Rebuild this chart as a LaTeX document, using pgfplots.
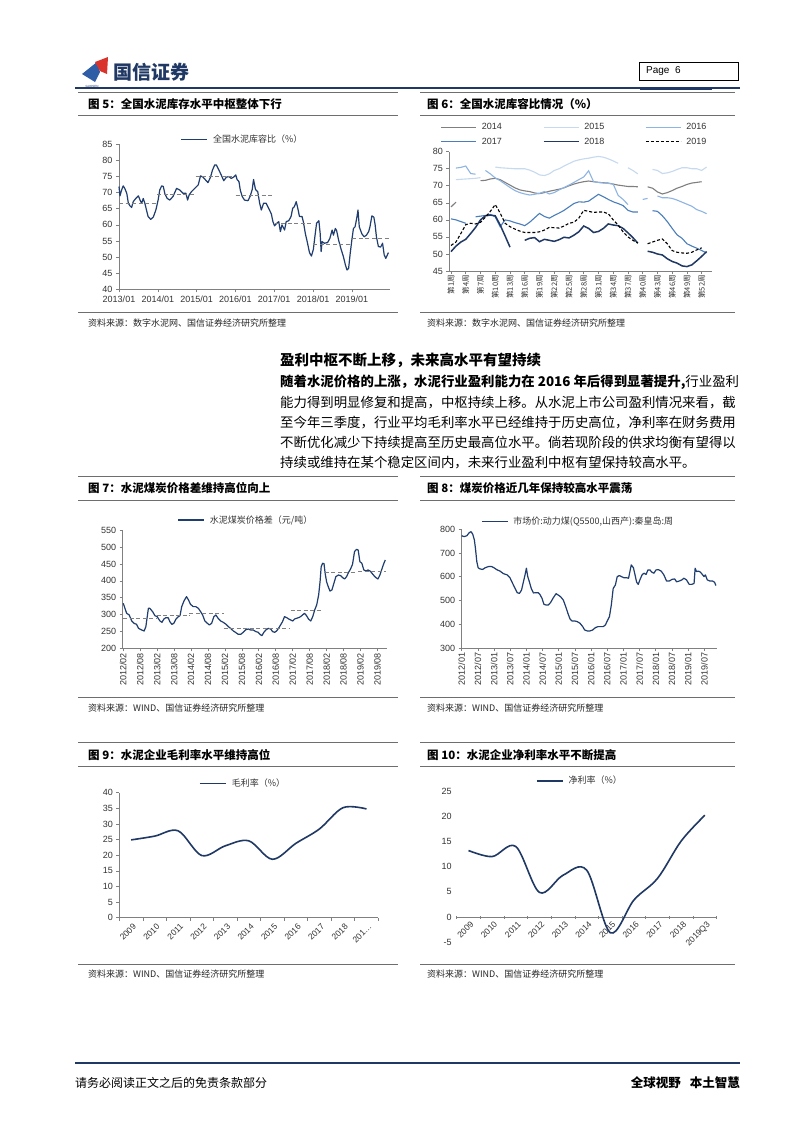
\documentclass[border=0pt]{standalone}
\usepackage{pgfplots}
\usepackage{pgfplotstable}
\pgfplotsset{compat=1.18}
\usepackage{fontspec}
\setmainfont{Liberation Sans}
\newfontfamily\cjk{Noto Sans CJK SC}
\definecolor{navy}{HTML}{1F3864}
\definecolor{lnc}{HTML}{1F3D6E}
\definecolor{c14}{HTML}{7F7F7F}
\definecolor{c15}{HTML}{C6D9F0}
\definecolor{c16}{HTML}{8EB4E3}
\definecolor{c17}{HTML}{4A7EBB}
\definecolor{c18}{HTML}{1F3864}
\definecolor{frm}{HTML}{6E6E6E}
\definecolor{logored}{HTML}{D9332B}
\definecolor{logoblue}{HTML}{2F5DA6}

\pgfplotstableread{
m v
0 71.9
0.3 69.0
0.8 70.8
1.3 72.1
1.8 71.3
2.4 69.8
2.9 66.7
3.4 65.9
3.9 65.4
4.4 67.2
5.2 68.2
6.0 69.0
6.5 67.7
7.0 66.7
7.5 68.2
8.0 66.7
8.5 64.6
9.0 62.6
9.8 61.7
10.6 62.4
11.4 64.6
12.1 67.7
12.6 70.8
13.2 72.1
13.7 71.9
14.2 69.6
14.9 68.2
15.7 67.7
16.7 68.8
17.8 71.3
18.8 70.8
19.8 69.8
20.7 69.8
21.2 67.7
21.7 69.3
22.4 70.3
23.4 71.3
24.5 72.4
25.2 75.2
26.0 74.8
26.8 73.9
27.5 73.1
28.3 74.8
28.9 77.0
29.6 78.6
30.1 78.6
30.9 77.0
31.6 75.5
32.4 73.7
33.2 74.8
34.0 75.0
34.7 74.4
35.4 74.8
36.1 75.5
36.5 74.1
37.1 73.4
37.5 70.8
38.1 68.8
38.8 67.7
39.9 67.5
40.6 69.0
41.2 71.0
41.6 74.1
42.2 71.0
42.9 70.3
43.5 66.7
44.0 64.6
44.7 66.7
45.5 66.7
46.3 65.1
47.1 63.4
47.6 61.0
48.1 59.7
48.8 60.5
49.4 61.0
49.9 57.9
50.4 60.0
51.2 58.4
51.7 61.0
52.5 61.3
53.2 62.6
53.7 65.1
54.2 65.6
54.8 67.2
55.3 65.1
55.8 62.6
56.6 62.6
57.0 61.0
57.6 57.4
58.3 54.3
58.9 51.4
59.5 50.3
60.1 52.4
60.7 57.4
61.1 60.5
61.8 61.3
62.2 57.4
62.5 51.7
62.8 54.8
63.5 54.3
64.5 54.5
65.2 55.8
65.9 58.4
66.3 56.8
66.9 58.9
67.3 58.2
67.9 55.3
68.6 52.7
69.4 50.1
70.0 47.6
70.5 46.0
71.0 46.5
71.5 51.2
72.0 55.3
72.5 58.9
73.0 59.4
73.5 62.0
73.9 64.6
74.3 59.4
75.1 57.2
75.8 56.3
76.5 56.8
77.2 57.9
77.6 59.4
78.2 62.8
78.8 62.4
79.2 60.0
79.6 56.3
80.2 53.3
80.9 53.1
81.5 54.3
82.0 50.7
82.5 49.6
83.0 50.7
83.3 51.4
}\tabfive

\pgfplotstableread{
w a b c d e f
1 63.8 nan nan 60.3 50.7 52.5
2 65.2 71.8 75.2 60.0 52.3 53.5
3 nan 71.9 75.4 59.5 53.5 56.0
4 nan 72.0 75.8 59.0 54.3 58.6
5 nan 72.1 73.6 nan 56.0 59.0
6 nan 72.2 73.4 60.9 57.8 58.8
7 71.5 72.4 nan 61.1 60.0 59.3
8 71.6 nan 74.5 61.3 61.2 60.8
9 72.0 nan 73.5 61.6 61.4 62.5
10 72.2 75.5 72.3 60.9 61.2 64.5
11 71.8 75.3 71.5 58.0 58.5 62.0
12 71.0 75.2 70.5 60.0 55.3 59.0
13 70.2 75.1 69.5 59.7 52.0 58.0
14 69.4 75.0 68.6 59.2 nan 57.3
15 68.8 75.0 68.0 58.8 nan 56.7
16 68.5 75.0 67.6 58.3 54.0 56.3
17 68.3 74.6 67.3 59.3 54.6 56.3
18 67.9 74.0 67.5 60.6 54.8 56.3
19 67.7 73.2 67.8 61.9 53.6 56.5
20 68.0 73.0 68.3 61.0 54.3 57.0
21 68.4 73.5 67.6 60.5 54.0 57.8
22 68.7 74.5 68.0 61.3 53.7 57.7
23 69.0 75.0 68.8 62.0 54.2 57.6
24 69.4 75.8 69.5 62.8 54.9 58.2
25 70.0 76.5 70.2 63.8 54.7 59.0
26 70.5 77.2 71.0 64.8 55.5 59.3
27 70.9 77.6 71.8 65.3 56.5 60.5
28 71.2 77.9 72.6 65.2 58.2 62.8
29 71.4 78.1 74.4 65.5 57.5 62.5
30 71.2 78.4 71.2 66.5 56.3 62.2
31 71.0 78.6 71.0 67.5 56.6 62.3
32 70.9 78.4 70.8 66.8 57.5 62.3
33 70.8 77.9 70.7 66.0 58.8 61.8
34 70.5 77.3 70.5 65.3 58.5 60.0
35 70.2 76.6 67.2 64.8 58.3 58.5
36 70.0 nan 66.0 64.2 57.5 56.5
37 69.8 75.3 64.5 62.8 56.2 55.0
38 69.8 74.5 nan 62.3 54.8 54.0
39 69.7 73.5 nan 62.3 53.2 53.2
40 nan nan 66.0 nan nan nan
41 69.7 nan 66.3 nan 50.8 53.0
42 69.3 74.8 nan 62.7 50.5 53.5
43 68.2 74.5 67.0 62.5 50.0 54.0
44 67.6 73.6 66.5 61.2 49.7 54.4
45 68.0 73.8 66.5 59.5 48.6 53.0
46 68.6 74.2 66.3 57.5 47.8 51.0
47 69.3 74.8 65.8 55.6 47.3 50.5
48 69.8 75.3 65.2 54.6 46.5 50.3
49 70.4 75.3 64.6 53.0 46.3 50.2
50 70.8 75.0 64.0 52.3 46.8 50.5
51 71.0 75.0 63.0 51.7 48.0 51.2
52 71.2 74.5 62.5 51.0 49.3 51.8
53 nan 75.5 61.8 50.3 50.7 nan
}\tabsix

\pgfplotstableread{
m v
0 333.5
0.6 318.6
1.2 303.8
2.1 298.9
3 281
3.8 274.1
4.7 271.2
5.4 259.3
6.5 254.4
7.4 251.4
8 264.3
8.9 318.6
9.4 318.6
10.4 308.7
11.2 296.9
12 293.9
13 281
13.7 277.1
14.4 287
15.1 290.9
15.9 290.9
16.5 279.1
17.2 271.2
17.9 274.1
18.7 287
19.5 293.9
20.1 296.9
20.7 323.6
21.5 340.4
22.4 353.2
23.1 343.4
23.8 330.5
24.8 323.6
25.7 323.6
26.6 318.6
27.4 308.7
28.1 298.9
28.9 281
29.8 274.1
30.5 269.2
31.3 274.1
32.1 293.9
32.8 298.9
33.6 289
34.5 281
35.4 277.1
36.4 271.2
37.2 264.3
38 259.3
39 251.4
39.9 246.5
40.7 241.5
41.6 241.5
42.5 247.5
43.4 255.4
44.3 257.3
45.1 254.4
46 254.4
47 249.4
47.8 247.5
48.4 241.5
49.1 237.6
49.8 247.5
50.5 254.4
51.4 259.3
52.2 257.3
52.9 249.4
53.6 247.5
54.3 251.4
55 259.3
55.7 269.2
56.4 279.1
57.1 293.9
57.9 290.9
58.6 287
59.3 284
60 281
60.7 287
61.4 289
62.1 290.9
62.8 293.9
63.5 298.9
64.2 303.8
64.9 296.9
65.6 287
66.4 281
67.1 293.9
67.8 313.7
68.5 328.5
69.2 358.2
69.7 397.7
70.1 442.2
70.6 452.1
71.1 451.1
71.5 422.5
72 397.7
72.6 382.9
73.2 370
73.9 373
74.6 392.8
75.3 412.6
76.2 417.5
77 415.5
77.7 409.6
78.4 405.6
79.1 412.6
79.8 425.4
80.5 435.3
81.2 449.2
81.9 486.7
82.6 493.6
83.2 491.7
83.8 457.1
84.5 452.1
85.2 432.3
86 429.4
86.7 432.3
87.4 429.4
88.1 422.5
88.8 415.5
89.5 409.6
90.2 405.6
90.9 417.5
91.6 435.3
92.3 452.1
92.8 462
}\tabseven

\pgfplotstableread{
m v
0 773
0.9 769
1.9 773
2.8 786
3.5 790
4.1 779
4.7 755
5.1 720
5.6 664
6.1 638
6.8 633
7.8 631
8.7 638
9.9 643
11.1 643
12 638
13 630
14.2 624
15.5 613
16.9 608
17.9 596
18.9 572
19.8 551
20.6 533
21.4 530
22.2 544
22.9 579
23.5 608
24 636
24.5 601
25.1 579
25.8 551
26.6 532
27.6 533
28.4 533
29 526
29.8 509
30.5 484
31.3 481
32.1 481
33 492
34 512
35 529
35.8 523
36.7 516
37.7 502
38.6 474
39.4 446
40.2 422
40.9 414
41.9 414
42.9 411
43.9 404
44.9 390
45.6 376
46.6 372
47.6 372
48.6 376
49.6 386
50.6 390
51.5 390
52.5 390
53.3 397
54 414
54.8 432
55.5 481
56.2 551
57 565
57.7 601
58.5 605
59.2 601
60.2 596
61.2 596
61.9 594
62.4 622
62.9 650
63.7 638
64.3 608
64.9 577
65.5 568
66.1 587
66.9 608
67.6 615
68.4 610
69.1 629
69.8 629
70.6 619
71.3 615
72.1 629
73 630
74 624
75 608
76 582
77 582
78 589
79 591
79.7 579
80.7 582
81.7 587
82.4 594
83.4 587
84.4 568
85.3 568
86.2 572
86.6 636
87.1 622
87.9 624
88.6 619
89.4 608
89.9 601
90.4 608
91.1 587
92.1 582
93.1 582
93.8 577
94.3 563
}\tabeight

\pgfplotsset{
  pg/.style={
    scale only axis, anchor=south west,
    axis lines=left,
    axis line style={black!50, line width=0.7pt, -},
    tick style={black!50, line width=0.6pt},
    tick align=outside, major tick length=3pt,
    tick label style={font=\fontsize{9}{10}\selectfont, text=black!80},
    /pgf/number format/assume math mode=true,
    enlargelimits=false, clip=false,
    unbounded coords=jump,
    legend style={draw=none, fill=none, anchor=center, inner sep=0pt,
      font=\cjk\fontsize{9}{10}\selectfont, text=black!80,
      /tikz/every odd column/.append style={column sep=3pt}},
    legend cell align=left,
    legend image code/.code={\draw[##1] (0pt,0pt) -- (26pt,0pt);},
  },
}

\begin{document}
\begin{tikzpicture}
\useasboundingbox (0,0) rectangle (802pt,-1133pt);
\fill[white] (0,0) rectangle (802pt,-1133pt);

\begin{scope}[x=1pt,y=-1pt]
% ---------- header ----------
\fill[logoblue] (82,74) -- (97,62) -- (100,72) -- (95,82) -- cycle;
\fill[logored] (95,62) -- (108,57) -- (107,74) -- (100,71) -- cycle;
\node[anchor=west, font=\cjk\bfseries\fontsize{19}{20}\selectfont, text=navy, inner sep=0pt] at (113,72) {国信证券};
\node[font=\fontsize{3}{3}\selectfont, text=navy, inner sep=0pt] at (92,86) {GUOSEN};
\draw[black, line width=0.7pt] (639,62) rectangle (738,80);
\node[anchor=west, font=\fontsize{10}{12}\selectfont, inner sep=0pt] at (646,71) {Page\ \ 6};
\draw[navy, line width=1.3pt] (75,88) -- (740,88);
\draw[navy, line width=2.2pt] (640,89) -- (712,89);

% ---------- frames ----------
\foreach \ya/\yb/\yc in {92/115/312.7, 476/500/697, 742.3/766.7/964.3}{
  \draw[frm, line width=0.9pt] (78,\ya) -- (398,\ya);
  \draw[frm, line width=0.9pt] (420,\ya) -- (735,\ya);
  \draw[frm, line width=0.9pt] (78,\yb) -- (398,\yb);
  \draw[frm, line width=0.9pt] (420,\yb) -- (735,\yb);
  \draw[frm, line width=0.9pt] (78,\yc) -- (398,\yc);
  \draw[frm, line width=0.9pt] (420,\yc) -- (735,\yc);
}
\tikzset{ttl/.style={anchor=west, inner sep=0pt, font=\cjk\bfseries\fontsize{11.5}{13}\selectfont},
         src/.style={anchor=west, inner sep=0pt, font=\cjk\fontsize{9}{11}\selectfont, text=black!85}}
\node[ttl] at (88,104) {图 5：全国水泥库存水平中枢整体下行};
\node[ttl] at (427,104) {图 6：全国水泥库容比情况（\%）};
\node[ttl] at (88,488) {图 7：水泥煤炭价格差维持高位向上};
\node[ttl] at (427,488) {图 8：煤炭价格近几年保持较高水平震荡};
\node[ttl] at (88,755) {图 9：水泥企业毛利率水平维持高位};
\node[ttl] at (427,755) {图 10：水泥企业净利率水平不断提高};
\node[src] at (88,323) {资料来源：数字水泥网、国信证券经济研究所整理};
\node[src] at (427,323) {资料来源：数字水泥网、国信证券经济研究所整理};
\node[src] at (88,708) {资料来源：WIND、国信证券经济研究所整理};
\node[src] at (427,708) {资料来源：WIND、国信证券经济研究所整理};
\node[src] at (88,974.5) {资料来源：WIND、国信证券经济研究所整理};
\node[src] at (427,974.5) {资料来源：WIND、国信证券经济研究所整理};

% ---------- body text ----------
\node[anchor=west, inner sep=0pt, font=\cjk\bfseries\fontsize{14.5}{16}\selectfont] at (280,360) {盈利中枢不断上移，未来高水平有望持续};
\tikzset{bt/.style={anchor=west, inner sep=0pt, font=\cjk\fontsize{13.4}{15}\selectfont}}
\node[bt] at (280,382.3) {{\bfseries 随着水泥价格的上涨，水泥行业盈利能力在 2016 年后得到显著提升,}行业盈利};
\node[bt] at (280,402.3) {能力得到明显修复和提高，中枢持续上移。从水泥上市公司盈利情况来看，截};
\node[bt] at (280,422.3) {至今年三季度，行业平均毛利率水平已经维持于历史高位，净利率在财务费用};
\node[bt] at (280,442.3) {不断优化减少下持续提高至历史最高位水平。倘若现阶段的供求均衡有望得以};
\node[bt] at (280,462.3) {持续或维持在某个稳定区间内，未来行业盈利中枢有望保持较高水平。};

% ---------- footer ----------
\draw[navy, line width=1.5pt] (75,1063) -- (740,1063);
\node[anchor=west, inner sep=0pt, font=\cjk\fontsize{12}{14}\selectfont] at (75,1083) {请务必阅读正文之后的免责条款部分};
\node[anchor=east, inner sep=0pt, font=\cjk\bfseries\fontsize{12.5}{14}\selectfont] at (740,1083) {全球视野\hspace{9pt}本土智慧};
\end{scope}

% ---------- Fig 5 ----------
\begin{axis}[pg, at={(119pt,-289.3pt)}, width=271pt, height=145pt,
  xmin=0, xmax=83.8, ymin=40, ymax=85,
  ytick={40,45,...,85},
  xtick={0,12,24,36,48,60,72},
  xticklabels={2013/01,2014/01,2015/01,2016/01,2017/01,2018/01,2019/01},
  legend style={at={(0.456,1.034)}}]
\addplot[lnc, line width=1.2pt, line join=round] table[x=m,y=v] {\tabfive};
\addlegendentry{全国水泥库容比（\%）}
\addplot[gray, line width=1pt, dash pattern=on 4pt off 2.5pt, forget plot] coordinates {(0,66.7) (11.6,66.7)};
\addplot[gray, line width=1pt, dash pattern=on 4pt off 2.5pt, forget plot] coordinates {(11.8,69.5) (23.4,69.5)};
\addplot[gray, line width=1pt, dash pattern=on 4pt off 2.5pt, forget plot] coordinates {(23.7,75.0) (35.4,75.0)};
\addplot[gray, line width=1pt, dash pattern=on 4pt off 2.5pt, forget plot] coordinates {(36.1,69.0) (47.6,69.0)};
\addplot[gray, line width=1pt, dash pattern=on 4pt off 2.5pt, forget plot] coordinates {(48.1,60.5) (59.7,60.5)};
\addplot[gray, line width=1pt, dash pattern=on 4pt off 2.5pt, forget plot] coordinates {(60.1,53.8) (71.7,53.8)};
\addplot[gray, line width=1pt, dash pattern=on 4pt off 2.5pt, forget plot] coordinates {(72.2,55.8) (83.5,55.8)};
\end{axis}

% ---------- Fig 6 ----------
\begin{axis}[pg, at={(449.3pt,-271pt)}, width=262.7pt, height=119.3pt,
  xmin=0.65, xmax=54.1, ymin=45, ymax=80,
  ytick={45,50,...,80},
  xtick={1,4,...,52},
  xticklabels={第1周,第4周,第7周,第10周,第13周,第16周,第19周,第22周,第25周,第28周,第31周,第34周,第37周,第40周,第43周,第46周,第49周,第52周},
  xticklabel style={font=\cjk\fontsize{7.5}{8}\selectfont, rotate=90, anchor=east, inner sep=1pt},
  legend columns=3,
  legend image code/.code={\draw[#1] (0pt,0pt) -- (35pt,0pt);},
  legend style={at={(0.477,1.144)}, font=\fontsize{9}{10}\selectfont,
    /tikz/every odd column/.append style={column sep=3pt},
    /tikz/every even column/.append style={column sep=39pt},
    row sep=2.5pt}]
\addplot[c14, line width=1.1pt] table[x=w,y=a] {\tabsix};
\addlegendentry{2014}
\addplot[c15, line width=1.1pt] table[x=w,y=b] {\tabsix};
\addlegendentry{2015}
\addplot[c16, line width=1.1pt] table[x=w,y=c] {\tabsix};
\addlegendentry{2016}
\addplot[c17, line width=1.1pt] table[x=w,y=d] {\tabsix};
\addlegendentry{2017}
\addplot[c18, line width=1.5pt] table[x=w,y=e] {\tabsix};
\addlegendentry{2018}
\addplot[black, line width=1.1pt, dash pattern=on 3pt off 2pt] table[x=w,y=f] {\tabsix};
\addlegendentry{2019}
\end{axis}

% ---------- Fig 7 ----------
\begin{axis}[pg, at={(122.7pt,-648.3pt)}, width=264pt, height=118pt,
  xmin=-0.2, xmax=93.3, ymin=200, ymax=550,
  ytick={200,250,...,550},
  xtick={0,6,...,90},
  xticklabels={2012/02,2012/08,2013/02,2013/08,2014/02,2014/08,2015/02,2015/08,2016/02,2016/08,2017/02,2017/08,2018/02,2018/08,2019/02,2019/08},
  xticklabel style={rotate=90, anchor=east, inner sep=1.5pt},
  legend style={at={(0.467,1.087)}}]
\addplot[lnc, line width=1.2pt, line join=round] table[x=m,y=v] {\tabseven};
\addlegendentry{水泥煤炭价格差（元/吨）}
\addplot[gray, line width=1pt, dash pattern=on 4pt off 2.5pt, forget plot] coordinates {(0,287) (11.8,287)};
\addplot[gray, line width=1pt, dash pattern=on 4pt off 2.5pt, forget plot] coordinates {(11.8,298) (23.4,298)};
\addplot[gray, line width=1pt, dash pattern=on 4pt off 2.5pt, forget plot] coordinates {(23.4,302) (35.5,302)};
\addplot[gray, line width=1pt, dash pattern=on 4pt off 2.5pt, forget plot] coordinates {(35.5,258) (59,258)};
\addplot[gray, line width=1pt, dash pattern=on 4pt off 2.5pt, forget plot] coordinates {(59.3,312) (70.8,312)};
\addplot[gray, line width=1pt, dash pattern=on 4pt off 2.5pt, forget plot] coordinates {(71.4,424) (82.6,424)};
\addplot[gray, line width=1pt, dash pattern=on 4pt off 2.5pt, forget plot] coordinates {(83.2,427) (93,427)};
\end{axis}

% ---------- Fig 8 ----------
\begin{axis}[pg, at={(461.7pt,-648pt)}, width=255pt, height=118.7pt,
  xmin=0, xmax=94.6, ymin=300, ymax=800,
  ytick={300,400,...,800},
  xtick={0,6,...,90},
  xticklabels={2012/01,2012/07,2013/01,2013/07,2014/01,2014/07,2015/01,2015/07,2016/01,2016/07,2017/01,2017/07,2018/01,2018/07,2019/01,2019/07},
  xticklabel style={rotate=90, anchor=east, inner sep=1.5pt},
  legend style={at={(0.457,1.064)}}]
\addplot[lnc, line width=1.2pt, line join=round] table[x=m,y=v] {\tabeight};
\addlegendentry{市场价:动力煤(Q5500,山西产):秦皇岛:周}
\end{axis}

% ---------- Fig 9 ----------
\begin{axis}[pg, at={(119.3pt,-917.7pt)}, width=259pt, height=125pt,
  xmin=-0.5, xmax=10.5, ymin=0, ymax=40,
  ytick={0,5,...,40},
  xtick={0,...,10},
  xticklabels={2009,2010,2011,2012,2013,2014,2015,2016,2017,2018,201…},
  major x tick style={draw=none},
  minor xtick={-0.5,0.5,...,10.5}, minor tick length=3pt,
  minor x tick style={black!50, line width=0.6pt},
  xticklabel style={rotate=45, anchor=north east, inner sep=0.5pt, yshift=-2pt, font=\fontsize{8.5}{9}\selectfont},
  legend style={at={(0.478,1.075)}}]
\addplot[navy, line width=1.6pt, smooth, tension=0.55] coordinates {(0,24.9) (1,26.1) (2,27.8) (3,19.9) (4,23.0) (5,24.6) (6,18.7) (7,23.8) (8,28.4) (9,35.2) (10,34.8)};
\addlegendentry{毛利率（\%）}
\end{axis}

% ---------- Fig 10 ----------
\begin{axis}[pg, at={(456.7pt,-942.3pt)}, width=260pt, height=151.3pt,
  axis x line=middle, axis y line=left,
  axis line style={black!50, line width=0.7pt, -},
  y axis line style={draw=none}, major y tick style={draw=none},
  hide obscured x ticks=false, hide obscured y ticks=false,
  xmin=-0.5, xmax=10.5, ymin=-5, ymax=25,
  ytick={-5,0,...,25},
  xtick={0,...,10},
  xticklabels={2009,2010,2011,2012,2013,2014,2015,2016,2017,2018,2019Q3},
  major x tick style={draw=none},
  minor xtick={-0.5,0.5,...,10.5}, minor tick length=3pt,
  minor x tick style={black!50, line width=0.6pt},
  xticklabel style={rotate=45, anchor=north east, inner sep=0.5pt, yshift=-2pt, font=\fontsize{8.5}{9}\selectfont},
  legend style={at={(0.474,1.068)}}]
\addplot[navy, line width=1.6pt, smooth, tension=0.55] coordinates {(0,13.2) (1,12.0) (2,14.0) (3,4.9) (4,8.3) (5,9.3) (6,-3.1) (7,3.4) (8,7.7) (9,15.1) (10,20.2)};
\addlegendentry{净利率（\%）}
\end{axis}
\end{tikzpicture}
\end{document}
